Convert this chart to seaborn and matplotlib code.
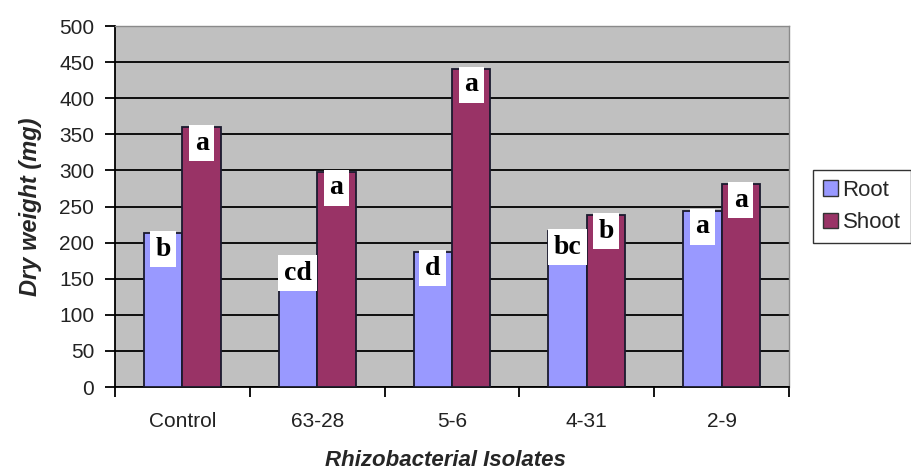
import matplotlib
matplotlib.use("Agg")
import matplotlib.pyplot as plt
import seaborn as sns
import pandas as pd
from matplotlib.patches import Patch

# Dry weight (mg) of roots and shoots per rhizobacterial isolate
isolates = ["Control", "63-28", "5-6", "4-31", "2-9"]
root_mg = [213, 180, 187, 216, 244]
shoot_mg = [360, 298, 441, 238, 281]
root_letters = ["b", "cd", "d", "bc", "a"]
shoot_letters = ["a", "a", "a", "b", "a"]
parts = ["Root", "Shoot"]
part_colors = ["#9999FF", "#993366"]

df = pd.DataFrame({
    "Isolate": isolates * 2,
    "Part": ["Root"] * len(isolates) + ["Shoot"] * len(isolates),
    "Weight": root_mg + shoot_mg,
})

sns.set_style("white")
plt.rcParams["font.family"] = ["Liberation Sans", "DejaVu Sans"]

fig = plt.figure(figsize=(9.11, 4.73), dpi=100)
ax = fig.add_axes([115 / 911, 1 - 387 / 473, 674 / 911, 361 / 473])
ax.set_facecolor("#C0C0C0")

sns.barplot(data=df, x="Isolate", y="Weight", hue="Part", order=isolates,
            hue_order=parts, palette=part_colors, width=0.57, gap=0,
            edgecolor="#1a1a2e", linewidth=1.3, saturation=1, ax=ax,
            legend=False, zorder=3)

ax.set_ylim(0, 500)
ax.set_xlim(-0.5, len(isolates) - 0.5)
ax.set_yticks(range(0, 501, 50))
ax.yaxis.grid(True, color="black", linewidth=1.3, zorder=1)
ax.set_axisbelow(True)

# tick marks sit between categories on the x axis
ax.set_xticks([i + 0.5 for i in range(-1, len(isolates))], minor=False)
ax.set_xticklabels([""] * (len(isolates) + 1))
ax.set_xticks(range(len(isolates)), minor=True)
ax.set_xticklabels(isolates, minor=True)
ax.tick_params(axis="x", which="major", direction="out", length=7, width=1.3,
               color="black", bottom=True)
ax.tick_params(axis="x", which="minor", length=0, labelsize=15, pad=18,
               labelcolor="#222222")
ax.tick_params(axis="y", direction="out", length=7, width=1.3, color="black",
               left=True, labelsize=15, labelcolor="#222222", pad=8)

for side in ["left", "bottom"]:
    ax.spines[side].set_color("black")
    ax.spines[side].set_linewidth(1.3)
for side in ["top", "right"]:
    ax.spines[side].set_color("#8a8a8a")
    ax.spines[side].set_linewidth(1.0)

ax.set_xlabel("Rhizobacterial Isolates", fontsize=16, fontweight="bold",
              fontstyle="italic")
ax.set_ylabel("Dry weight (mg)", fontsize=17, fontweight="bold",
              fontstyle="italic")
ax.xaxis.set_label_coords(0.49, -0.175)
ax.yaxis.set_label_coords(-0.109, 0.5)

# significance letters in white boxes at the top of each bar
for container, letters in zip(ax.containers, [root_letters, shoot_letters]):
    for bar, letter in zip(container, letters):
        cx = bar.get_x() + bar.get_width() / 2
        top = bar.get_height()
        ax.text(cx, top - 5, letter, ha="center", va="top",
                family=["Liberation Serif", "DejaVu Serif"], fontweight="bold",
                fontsize=20, color="black", zorder=5,
                bbox=dict(boxstyle="square,pad=0.2", facecolor="white",
                          edgecolor="none"))

handles = [Patch(facecolor=c, edgecolor="#333333", linewidth=1) for c in part_colors]
leg = ax.legend(handles, parts, loc="center left", bbox_to_anchor=(1.035, 0.5),
                frameon=True, fancybox=False, shadow=False, fontsize=16,
                handlelength=0.7, handleheight=0.7, handletextpad=0.2,
                borderpad=0.45, labelspacing=0.5, borderaxespad=0)
leg.get_frame().set_edgecolor("black")
leg.get_frame().set_linewidth(1.0)

fig.savefig("out.png", dpi=100)
